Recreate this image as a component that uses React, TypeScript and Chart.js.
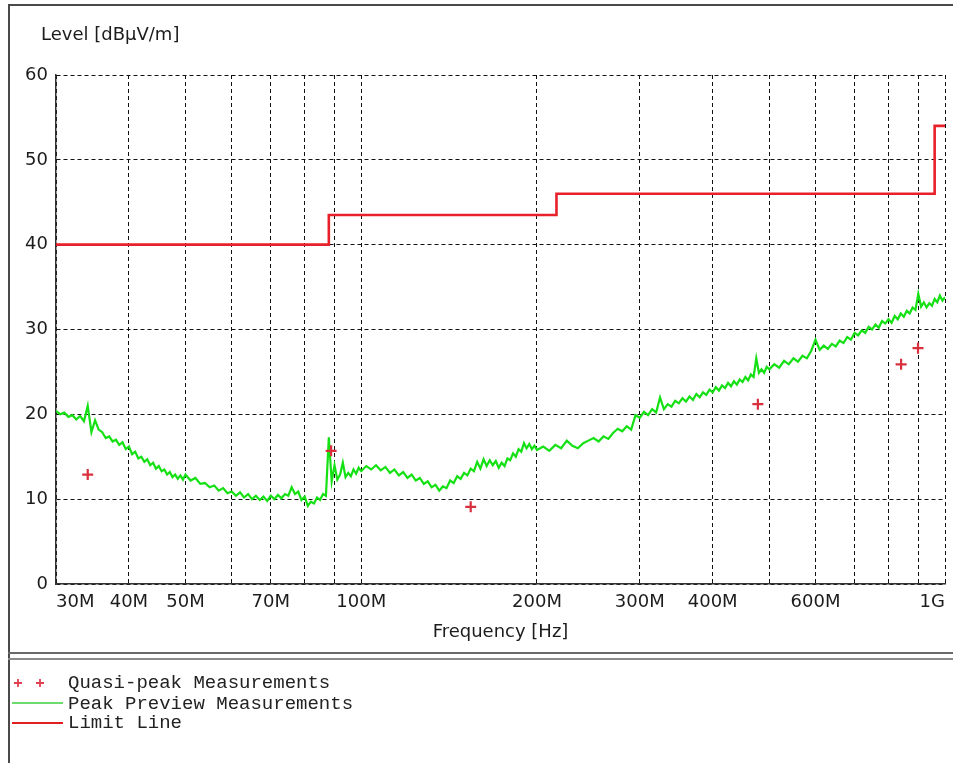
import { useEffect, useRef } from "react";
import { Chart, registerables } from "chart.js";

Chart.register(...registerables);

// ---- axis ticks ----
const X_TICK_FREQS = [30e6, 40e6, 50e6, 60e6, 70e6, 80e6, 90e6, 100e6, 200e6, 300e6, 400e6, 500e6, 600e6, 700e6, 800e6, 900e6, 1e9];
const X_TICK_LABELS = ["30M", "40M", "50M", "", "70M", "", "", "100M", "200M", "300M", "400M", "", "600M", "", "", "", "1G"];
const Y_MIN = 0;
const Y_MAX = 60;
const Y_STEP = 10;

// ---- limit line (MHz, dBµV/m) ----
const LIMIT_FREQ_MHZ = [30, 88, 88, 216, 216, 960, 960, 1000];
const LIMIT_LEVEL = [40, 40, 43.5, 43.5, 46, 46, 54, 54];

// ---- quasi-peak measurements ----
const QP_FREQ_MHZ = [34.0, 88.8, 154, 478, 841, 899];
const QP_LEVEL = [12.9, 15.7, 9.1, 21.2, 25.9, 27.8];

// ---- peak preview measurements ----
const PEAK_FREQ_MHZ = [
  30, 30.5, 31, 31.5, 32, 32.5, 33, 33.5, 34, 34.5, 35, 35.5, 36, 36.5, 37, 37.5, 38, 38.5, 39, 39.5,
  40, 40.5, 41, 41.5, 42, 42.5, 43, 43.5, 44, 44.5, 45, 45.5, 46, 46.5, 47, 47.5, 48, 48.5, 49, 49.5, 50,
  51, 52, 53, 54, 55, 56, 57, 58, 59, 60, 61, 62, 63, 64, 65, 66, 67, 68, 69, 70,
  71, 72, 73, 74, 75, 76, 77, 78, 79, 80, 81, 82, 83, 84, 85, 86, 87, 88, 89, 90,
  91, 92, 93, 94, 95, 96, 97, 98, 99, 100,
  102, 104, 106, 108, 110, 112, 114, 116, 118, 120, 122, 124, 126, 128, 130, 132, 134, 136, 138, 140,
  142, 144, 146, 148, 150, 152, 154, 156, 158, 160, 162, 164, 166, 168, 170, 172, 174, 176, 178, 180,
  182, 184, 186, 188, 190, 192, 194, 196, 198, 200,
  205, 210, 215, 220, 225, 230, 235, 240, 245, 250, 255, 260, 265, 270, 275, 280, 285, 290, 295, 300,
  305, 310, 315, 320, 325, 330, 335, 340, 345, 350, 355, 360, 365, 370, 375, 380, 385, 390, 395, 400,
  405, 410, 415, 420, 425, 430, 435, 440, 445, 450, 455, 460, 465, 470, 475, 480, 485, 490, 495, 500,
  510, 520, 530, 540, 550, 560, 570, 580, 590, 600, 610, 620, 630, 640, 650, 660, 670, 680, 690, 700,
  710, 720, 730, 740, 750, 760, 770, 780, 790, 800, 810, 820, 830, 840, 850, 860, 870, 880, 890, 900,
  910, 920, 930, 940, 950, 960, 970, 980, 990, 1000,
];
const PEAK_LEVEL = [
  20.4, 20.0, 20.2, 19.7, 19.9, 19.4, 19.8, 19.2, 21.0, 17.9, 19.3, 18.2, 17.9, 17.2, 17.4, 16.8, 17.0, 16.4, 16.7, 15.9,
  16.2, 15.3, 15.6, 14.8, 15.0, 14.4, 14.7, 14.0, 14.3, 13.6, 13.9, 13.3, 13.5, 12.9, 13.2, 12.6, 12.9, 12.4, 12.8, 12.3, 12.9,
  12.2, 12.5, 11.8, 11.9, 11.4, 11.6, 11.0, 11.3, 10.7, 10.9, 10.4, 10.8, 10.2, 10.6, 10.0, 10.4, 9.9, 10.3, 9.8, 10.4,
  10.0, 10.5, 10.1, 10.6, 10.4, 11.4, 10.6, 10.9, 9.9, 10.3, 9.2, 9.7, 9.5, 10.2, 9.9, 10.6, 10.4, 17.3, 12.1, 14.0,
  12.3, 12.9, 14.3, 12.6, 13.1, 12.7, 13.5, 13.0, 13.7, 13.3,
  13.9, 13.5, 14.0, 13.4, 13.8, 13.1, 13.5, 12.8, 13.2, 12.5, 12.9, 12.2, 12.5, 11.8, 12.1, 11.4, 11.7, 11.0, 11.5, 11.3,
  12.2, 11.9, 12.7, 12.4, 13.1, 12.8, 13.6, 13.3, 14.4, 13.6, 14.7, 13.9, 14.6, 14.0, 14.5, 13.7, 14.3, 13.9, 14.8, 14.6,
  15.4, 15.0, 15.9, 15.6, 16.6, 16.0, 16.5, 15.9, 16.3, 15.8,
  16.2, 15.7, 16.4, 16.0, 16.9, 16.3, 16.0, 16.6, 16.9, 17.2, 16.8, 17.4, 17.1, 17.8, 18.3, 18.0, 18.6, 18.2, 19.9, 19.6,
  20.3, 19.9, 20.6, 20.2, 22.0, 20.6, 21.2, 20.9, 21.6, 21.3, 21.9, 21.5, 22.1, 21.7, 22.4, 22.0, 22.6, 22.3, 22.9, 22.6,
  23.2, 22.8, 23.4, 23.1, 23.7, 23.3, 23.9, 23.5, 24.1, 23.8, 24.4, 24.0, 24.7, 24.4, 26.6, 24.9, 25.3, 24.9, 25.6, 25.3,
  25.9, 25.5, 26.3, 25.9, 26.6, 26.2, 26.9, 26.6, 27.5, 28.8, 27.6, 28.1, 27.7, 28.3, 28.0, 28.7, 28.4, 29.1, 28.8, 29.6,
  29.3, 29.9, 29.6, 30.3, 30.0, 30.6, 30.2, 31.0, 30.7, 31.2, 30.8, 31.6, 31.2, 31.9, 31.5, 32.2, 31.9, 32.6, 32.3, 34.2,
  32.7, 33.2, 32.6, 33.1, 32.8, 33.6, 33.2, 34.0, 33.4, 33.8,
];

const MHZ = 1e6;
const toPoints = (f: number[], v: number[]) => f.map((x, i) => ({ x: x * MHZ, y: v[i] }));

const TEXT_FONT = '"DejaVu Sans", sans-serif';
const MONO_FONT = '"Liberation Mono", "DejaVu Sans Mono", monospace';
const TEXT_COLOR = "#1c1c1c";

const framePlugin = {
  id: "frameAndLegend",
  beforeDraw(chart: any) {
    const ctx = chart.ctx;
    ctx.save();
    ctx.fillStyle = "#ffffff";
    ctx.fillRect(0, 0, chart.width, chart.height);
    ctx.restore();
  },
  afterDraw(chart: any) {
    const ctx = chart.ctx;
    const area = chart.chartArea;
    ctx.save();
    // outer frame
    ctx.strokeStyle = "#4a4a4a";
    ctx.lineWidth = 2;
    ctx.beginPath();
    ctx.moveTo(9, chart.height);
    ctx.lineTo(9, 5);
    ctx.lineTo(chart.width, 5);
    ctx.stroke();
    // separator (double line)
    ctx.strokeStyle = "#6a6a6a";
    ctx.beginPath();
    ctx.moveTo(8, 653);
    ctx.lineTo(chart.width, 653);
    ctx.stroke();
    ctx.strokeStyle = "#8a8a8a";
    ctx.beginPath();
    ctx.moveTo(8, 659);
    ctx.lineTo(chart.width, 659);
    ctx.stroke();

    // axis titles
    ctx.fillStyle = TEXT_COLOR;
    ctx.font = `18px ${TEXT_FONT}`;
    ctx.textBaseline = "alphabetic";
    ctx.textAlign = "left";
    ctx.fillText("Level [dBµV/m]", 41, 40);
    ctx.textAlign = "center";
    ctx.fillText("Frequency [Hz]", (area.left + area.right) / 2, 637);

    // legend
    ctx.font = `19px ${MONO_FONT}`;
    ctx.textAlign = "left";
    ctx.textBaseline = "middle";
    ctx.fillStyle = "#222222";
    ctx.fillText("Quasi-peak Measurements", 68, 683);
    ctx.fillText("Peak Preview Measurements", 68, 704);
    ctx.fillText("Limit Line", 68, 723);

    ctx.strokeStyle = "#e04050";
    ctx.lineWidth = 1.8;
    for (const cx of [18, 40]) {
      ctx.beginPath();
      ctx.moveTo(cx - 4, 683);
      ctx.lineTo(cx + 4, 683);
      ctx.moveTo(cx, 679);
      ctx.lineTo(cx, 687);
      ctx.stroke();
    }
    ctx.strokeStyle = "#3ccf3c";
    ctx.lineWidth = 1.5;
    ctx.beginPath();
    ctx.moveTo(12, 703);
    ctx.lineTo(63, 703);
    ctx.stroke();
    ctx.strokeStyle = "#e02020";
    ctx.lineWidth = 2;
    ctx.beginPath();
    ctx.moveTo(12, 723);
    ctx.lineTo(63, 723);
    ctx.stroke();
    ctx.restore();
  },
};

export default function App() {
  const canvasRef = useRef<HTMLCanvasElement | null>(null);

  useEffect(() => {
    document.body.style.margin = "0";
    document.body.style.overflow = "hidden";
    const canvas = canvasRef.current;
    if (!canvas) return;

    const chart = new Chart(canvas, {
      type: "line",
      data: {
        datasets: [
          {
            label: "Quasi-peak Measurements",
            data: toPoints(QP_FREQ_MHZ, QP_LEVEL),
            showLine: false,
            pointStyle: "cross",
            pointRadius: 5.5,
            pointBorderWidth: 2.2,
            pointBorderColor: "#d8303c",
            pointBackgroundColor: "#d8303c",
            borderColor: "#d8303c",
          },
          {
            label: "Limit Line",
            data: toPoints(LIMIT_FREQ_MHZ, LIMIT_LEVEL),
            borderColor: "#e8202a",
            borderWidth: 2.6,
            pointRadius: 0,
            tension: 0,
            fill: false,
          },
          {
            label: "Peak Preview Measurements",
            data: toPoints(PEAK_FREQ_MHZ, PEAK_LEVEL),
            borderColor: "#14e014",
            borderWidth: 2.2,
            pointRadius: 0,
            tension: 0,
            fill: false,
          },
        ],
      },
      options: {
        animation: false,
        responsive: false,
        devicePixelRatio: 1,
        layout: { padding: { left: 0, top: 75, right: 8, bottom: 0 } },
        plugins: {
          legend: { display: false },
          tooltip: { enabled: false },
          title: { display: false },
        },
        scales: {
          x: {
            type: "logarithmic",
            min: 30e6,
            max: 1e9,
            afterBuildTicks: (scale: any) => {
              scale.ticks = X_TICK_FREQS.map((v) => ({ value: v }));
            },
            afterFit: (scale: any) => {
              scale.height = 179;
            },
            ticks: {
              autoSkip: false,
              maxRotation: 0,
              minRotation: 0,
              align: "inner",
              padding: 8,
              color: TEXT_COLOR,
              font: { family: TEXT_FONT, size: 18 },
              callback: (_v: any, i: number) => X_TICK_LABELS[i],
            },
            grid: { color: "#111111", lineWidth: 1, drawTicks: false },
            border: { display: true, color: "#333333", width: 1.5, dash: [4, 3] },
          },
          y: {
            type: "linear",
            min: Y_MIN,
            max: Y_MAX,
            afterFit: (scale: any) => {
              scale.width = 56;
            },
            ticks: {
              stepSize: Y_STEP,
              padding: 8,
              color: TEXT_COLOR,
              font: { family: TEXT_FONT, size: 18 },
            },
            grid: { color: "#111111", lineWidth: 1, drawTicks: false },
            border: { display: true, color: "#333333", width: 1.5, dash: [4, 3] },
          },
        },
      },
      plugins: [framePlugin],
    } as any);

    return () => {
      chart.destroy();
    };
  }, []);

  return (
    <canvas
      ref={canvasRef}
      width={953}
      height={763}
      style={{ display: "block", width: "953px", height: "763px" }}
    />
  );
}
